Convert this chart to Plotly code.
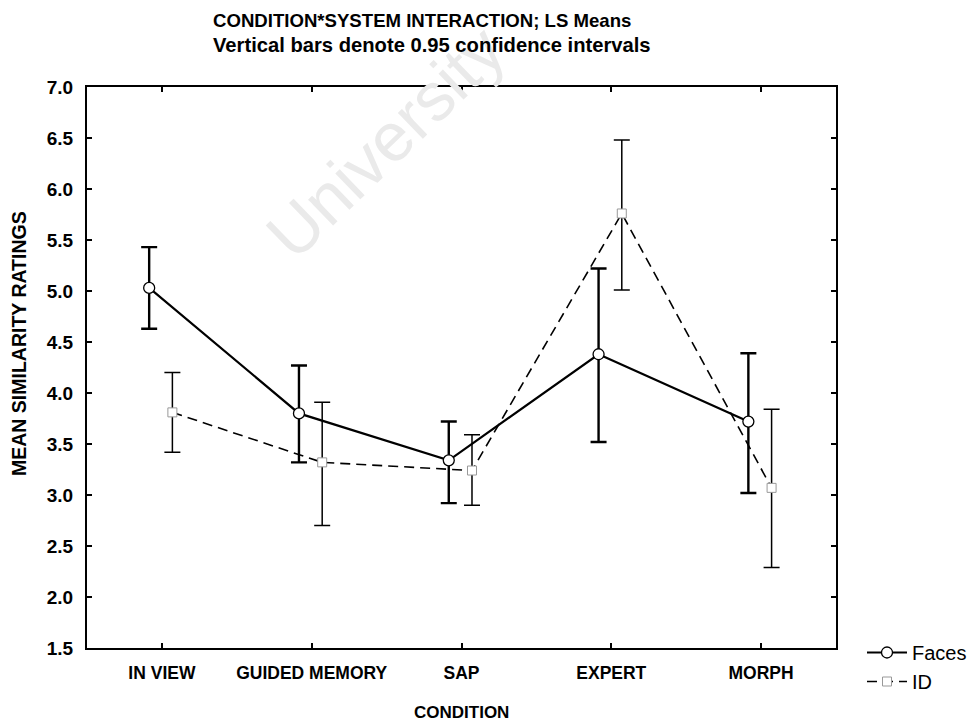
import plotly.graph_objects as go

# ---- data ----
conditions = ["IN VIEW", "GUIDED MEMORY", "SAP", "EXPERT", "MORPH"]
faces_mean = [5.03, 3.80, 3.34, 4.38, 3.72]
faces_upper = [5.43, 4.27, 3.72, 5.22, 4.39]
faces_lower = [4.63, 3.32, 2.92, 3.52, 3.02]
id_mean = [3.81, 3.32, 3.24, 5.76, 3.07]
id_upper = [4.20, 3.91, 3.59, 6.48, 3.84]
id_lower = [3.42, 2.70, 2.90, 5.01, 2.29]
y_ticks = [1.5, 2.0, 2.5, 3.0, 3.5, 4.0, 4.5, 5.0, 5.5, 6.0, 6.5, 7.0]

FONT = "Liberation Sans, Arial, sans-serif"
pos = list(range(len(conditions)))
faces_x = [p - 0.085 for p in pos]
id_x = [p + 0.07 for p in pos]

# plot area in pixels: x 87..836, y 87..648
L, R, T, B = 87, 836, 87, 648
def px(x):
    return (x - L) / (R - L)
def py(y):
    return (B - y) / (B - T)

fig = go.Figure()
fig.add_trace(go.Scatter(
    x=faces_x, y=faces_mean, name="Faces", mode="lines+markers",
    line=dict(color="black", width=2.2),
    marker=dict(symbol="circle", size=11, color="white", line=dict(color="black", width=1.3)),
    error_y=dict(type="data", symmetric=False,
                 array=[u - m for u, m in zip(faces_upper, faces_mean)],
                 arrayminus=[m - l for m, l in zip(faces_mean, faces_lower)],
                 color="black", thickness=2.4, width=8),
))
fig.add_trace(go.Scatter(
    x=id_x, y=id_mean, name="ID", mode="lines+markers",
    line=dict(color="black", width=1.6, dash="10px,6px"),
    marker=dict(symbol="square", size=9, color="white", line=dict(color="#999999", width=1)),
    error_y=dict(type="data", symmetric=False,
                 array=[u - m for u, m in zip(id_upper, id_mean)],
                 arrayminus=[m - l for m, l in zip(id_mean, id_lower)],
                 color="black", thickness=1.5, width=8),
))

fig.update_layout(
    width=976, height=721,
    margin=dict(l=L, r=976 - R, t=T, b=721 - B, autoexpand=False),
    paper_bgcolor="white", plot_bgcolor="white",
    font=dict(family=FONT, size=17, color="black"),
    showlegend=True,
    legend=dict(x=px(862), xanchor="left", y=py(633), yanchor="top",
                font=dict(size=20), itemwidth=40, tracegroupgap=0,
                bgcolor="rgba(0,0,0,0)"),
    annotations=[
        dict(text="University", xref="paper", yref="paper", x=px(385), y=py(142),
             xanchor="center", yanchor="middle",
             showarrow=False, textangle=-44,
             font=dict(size=68, color="#eaeaea", family=FONT)),
        dict(text="CONDITION*SYSTEM INTERACTION; LS Means", xref="paper", yref="paper",
             x=px(211), y=py(20), xanchor="left", yanchor="middle",
             showarrow=False, font=dict(size=18.6, family=FONT, weight="bold")),
        dict(text="Vertical bars denote 0.95 confidence intervals", xref="paper", yref="paper",
             x=px(211), y=py(45), xanchor="left", yanchor="middle",
             showarrow=False, font=dict(size=20.2, family=FONT, weight="bold")),
        dict(text="MEAN SIMILARITY RATINGS", xref="paper", yref="paper",
             x=px(19), y=py(344), xanchor="center", yanchor="middle",
             textangle=-90, showarrow=False, font=dict(size=19.5, family=FONT, weight="bold")),
        dict(text="CONDITION", xref="paper", yref="paper",
             x=px(461), y=py(712), xanchor="center", yanchor="middle",
             showarrow=False, font=dict(size=17, family=FONT, weight="bold")),
    ],
)
fig.update_xaxes(
    range=[-0.5, 4.5], tickmode="array", tickvals=pos, ticktext=conditions,
    ticks="inside", ticklen=5, tickwidth=1.5, tickcolor="black",
    showline=True, linecolor="black", linewidth=2, mirror="ticks",
    showgrid=False, zeroline=False, ticklabelstandoff=8,
    tickfont=dict(size=17.5, weight="bold"),
)
fig.update_yaxes(
    range=[1.5, 7.0], tickmode="array", tickvals=y_ticks,
    ticktext=[f"{v:.1f}" for v in y_ticks],
    ticks="inside", ticklen=5, tickwidth=1.5, tickcolor="black",
    showline=True, linecolor="black", linewidth=2, mirror="ticks",
    showgrid=False, zeroline=False, ticklabelstandoff=8,
    tickfont=dict(size=19, weight="bold"),
)

fig.write_html("out.html", config={"displayModeBar": False},
               post_script="document.body.style.margin='0';")
